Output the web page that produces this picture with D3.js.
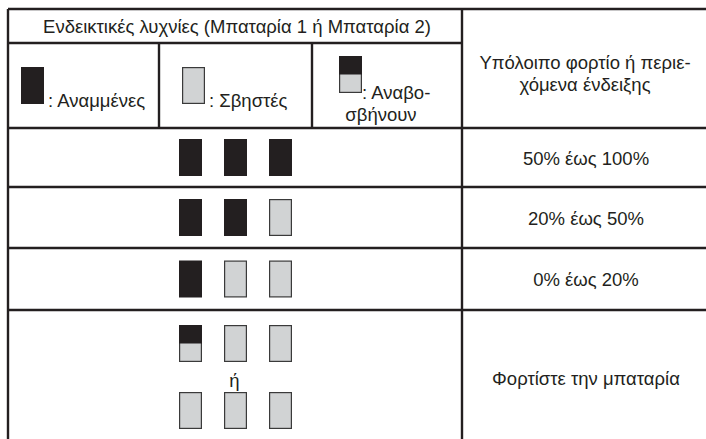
<!DOCTYPE html>
<html>
<head>
<meta charset="utf-8">
<script src="https://cdn.jsdelivr.net/npm/d3@7"></script>
<style>
  html, body { margin: 0; padding: 0; background: #fff; }
  svg text { font-family: "Liberation Sans", Arial, sans-serif; fill: #231f20; font-size: 18.5px; }
</style>
</head>
<body>
<script>
// Data
const headerTitle = "Ενδεικτικές λυχνίες (Μπαταρία 1 ή Μπαταρία 2)";
const remainingHeader = ["Υπόλοιπο φορτίο ή περιε-", "χόμενα ένδειξης"];
const legendStates = ["on", "off", "blink"];
const legendLabels = [[": Αναμμένες"], [": Σβηστές"], [": Αναβο-", "σβήνουν"]];
const levelLabels = ["50% έως 100%", "20% έως 50%", "0% έως 20%", "Φορτίστε την μπαταρία"];
const lampPatterns = [
  [["on", "on", "on"]],
  [["on", "on", "off"]],
  [["on", "off", "off"]],
  [["blink", "off", "off"], ["off", "off", "off"]]
];
const orWord = "ή";

const W = 706, H = 439;
const tblLeft = 8, tblTop = 9, tblRight = 712, tblBottom = 445;
const divX = 462;
const legendDivs = [tblLeft, 159, 312, divX];
const rowEdges = [43, 128, 187, 248, 310, tblBottom];
const lampW = 23, lampH = 37;
const black = "#231f20", grey = "#d1d3d4", lineCol = "#231f20";

const svg = d3.select("body").append("svg")
    .attr("width", W)
    .attr("height", H);

// lamp x positions by index
const xLamp = d3.scaleLinear().domain([0, 2]).range([179, 269]);

function lamp(g, state, x, y) {
  if (state === "on") {
    g.append("rect").attr("x", x).attr("y", y).attr("width", lampW).attr("height", lampH)
      .attr("fill", black);
  } else {
    g.append("rect").attr("x", x + 0.6).attr("y", y + 0.6).attr("width", lampW - 1.2).attr("height", lampH - 1.2)
      .attr("fill", grey).attr("stroke", "#3a3a3a").attr("stroke-width", 1.2);
    if (state === "blink") {
      g.append("rect").attr("x", x).attr("y", y).attr("width", lampW).attr("height", lampH / 2)
        .attr("fill", black);
    }
  }
}

const grid = svg.append("g").attr("class", "grid")
    .attr("stroke", lineCol).attr("stroke-width", 2.4);

// outer + horizontal lines
grid.append("line").attr("x1", tblLeft).attr("x2", tblRight).attr("y1", tblTop).attr("y2", tblTop);
grid.append("line").attr("x1", tblLeft).attr("x2", divX).attr("y1", rowEdges[0]).attr("y2", rowEdges[0]);
rowEdges.slice(1, -1).forEach(y => {
  grid.append("line").attr("x1", tblLeft).attr("x2", tblRight).attr("y1", y).attr("y2", y);
});
grid.append("line").attr("x1", tblLeft).attr("x2", tblLeft).attr("y1", tblTop).attr("y2", tblBottom);
grid.append("line").attr("x1", divX).attr("x2", divX).attr("y1", tblTop).attr("y2", tblBottom);
grid.append("line").attr("x1", tblRight).attr("x2", tblRight).attr("y1", tblTop).attr("y2", tblBottom);
legendDivs.slice(1, -1).forEach(x => {
  grid.append("line").attr("x1", x).attr("x2", x).attr("y1", rowEdges[0]).attr("y2", rowEdges[1]);
});

// header
svg.append("text")
    .attr("x", (tblLeft + divX) / 2 + 2)
    .attr("y", 33)
    .attr("text-anchor", "middle")
    .text(headerTitle);

const rightCx = (divX + tblRight) / 2;
svg.selectAll(".rhead")
    .data(remainingHeader)
  .enter().append("text")
    .attr("class", "rhead")
    .attr("x", rightCx - 2)
    .attr("y", (d, i) => 69 + i * 22)
    .attr("text-anchor", "middle")
    .text(d => d);

// legend
const legendLamp = [{x: 21, y: 67}, {x: 182, y: 67}, {x: 339, y: 56}];
const legendText = [{x: 48, y: 107}, {x: 209, y: 107}, {x: 362, y: 99}];
legendStates.forEach((s, i) => {
  const g = svg.append("g").attr("class", "legend");
  lamp(g, s, legendLamp[i].x, legendLamp[i].y);
  legendLabels[i].forEach((t, j) => {
    g.append("text")
      .attr("x", j === 0 ? legendText[i].x : 381)
      .attr("y", legendText[i].y + j * 22)
      .attr("text-anchor", j === 0 ? "start" : "middle")
      .text(t);
  });
});

// level rows
levelLabels.forEach((label, r) => {
  const y0 = rowEdges[r + 1], y1 = rowEdges[r + 2];
  const g = svg.append("g").attr("class", "row");
  const sets = lampPatterns[r];
  if (sets.length === 1) {
    const ly = (y0 + y1) / 2 - lampH / 2;
    sets[0].forEach((s, k) => lamp(g, s, xLamp(k), ly));
  } else {
    sets.forEach((set, m) => {
      const ly = y0 + 15 + m * 67;
      set.forEach((s, k) => lamp(g, s, xLamp(k), ly));
    });
    g.append("text")
      .attr("x", xLamp(1) + lampW / 2 - 1)
      .attr("y", y0 + 77)
      .attr("text-anchor", "middle")
      .text(orWord);
  }
  const ty = r < 3 ? (y0 + y1) / 2 + 1 : 379;
  g.append("text")
    .attr("x", rightCx - 1)
    .attr("y", ty)
    .attr("dy", "0.35em")
    .attr("text-anchor", "middle")
    .text(label);
});
</script>
</body>
</html>
